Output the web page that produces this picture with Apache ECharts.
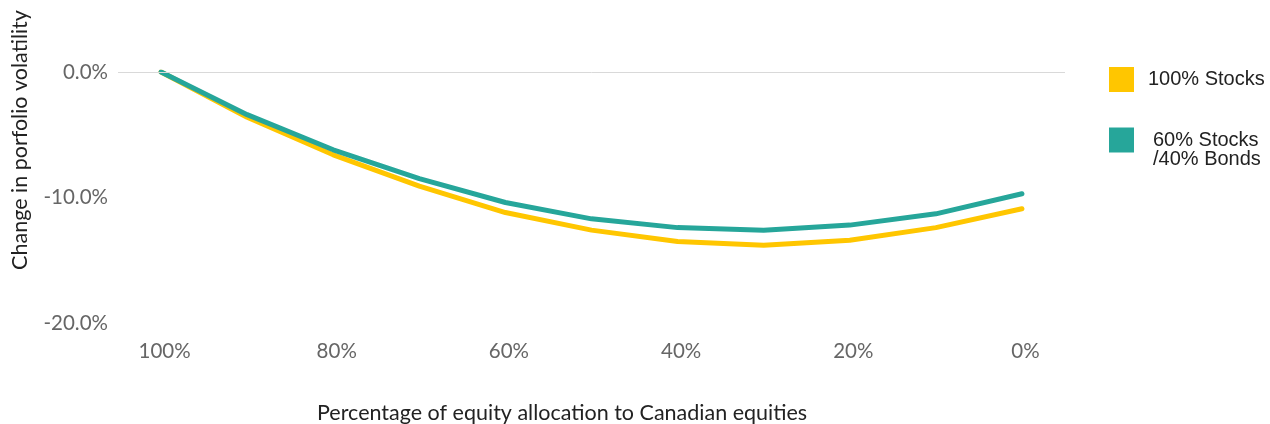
<!DOCTYPE html>
<html><head><meta charset="utf-8">
<script src="https://cdn.jsdelivr.net/npm/echarts@6/dist/echarts.min.js"></script>
<style>html,body{margin:0;padding:0;background:#fff}#c{width:1270px;height:424px}</style>
</head><body><div id="c"></div>
<script>
const categories = ['100%','90%','80%','70%','60%','50%','40%','30%','20%','10%','0%'];
const stocks100 = [0, -3.6, -6.6, -9.1, -11.2, -12.6, -13.5, -13.8, -13.4, -12.4, -10.9];
const stocks60bonds40 = [0, -3.4, -6.2, -8.5, -10.4, -11.7, -12.4, -12.6, -12.2, -11.3, -9.7];
const seriesNames = ['100% Stocks', '60% Stocks\n/40% Bonds'];
const yTicks = [0, -10, -20];

const chart = echarts.init(document.getElementById('c'), null, {renderer:'canvas'});
const axisFont = 'Lato, "Open Sans", sans-serif';
const legFont = '"Liberation Sans", Arial, sans-serif';
chart.setOption({
  animation:false,
  grid:{left:118, right:205, top:72, bottom:101, containLabel:false},
  xAxis:{type:'category', data:categories, boundaryGap:true,
    axisLine:{show:false}, axisTick:{show:false},
    axisLabel:{interval:1, color:'#666', fontSize:20.5, fontFamily:axisFont, margin:18, padding:[0,0,0,7]}},
  yAxis:{type:'value', min:yTicks[2], max:yTicks[0], interval:10,
    splitLine:{show:false}, axisLine:{show:false}, axisTick:{show:false},
    axisLabel:{color:'#666', fontSize:20.5, fontFamily:axisFont, margin:10,
      formatter:v=>v.toFixed(1)+'%'}},
  legend:[
    {data:[seriesNames[0]], orient:'vertical', left:1109, top:67, padding:0, itemWidth:25, itemHeight:25, itemGap:10,
      icon:'rect', textStyle:{fontSize:20, color:'#222', fontFamily:legFont, padding:[0,0,0,9]}},
    {data:[seriesNames[1]], orient:'vertical', left:1109, top:111, padding:0, itemWidth:25, itemHeight:25,
      icon:'rect', formatter:n=>' \n'+n,
      textStyle:{fontSize:20, color:'#222', lineHeight:19, fontFamily:legFont, padding:[0,0,0,14]}}
  ],
  graphic:[
    {type:'text', left:317, top:402, style:{text:'Percentage of equity allocation to Canadian equities', font:'21.5px Lato, "Open Sans", sans-serif', fill:'#222'}},
    {type:'text', x:20, y:140, rotation:Math.PI/2, style:{text:'Change in porfolio volatility', font:'21.5px Lato, "Open Sans", sans-serif', fill:'#222', align:'center', verticalAlign:'middle'}}
  ],
  series:[
    {name:seriesNames[0], type:'line', data:stocks100, symbol:'none', color:'#FFC600',
      lineStyle:{width:5, color:'#FFC600', cap:'round', join:'round'},
      markLine:{silent:true, symbol:'none', label:{show:false}, lineStyle:{color:'#d9d9d9', width:1, type:'solid'}, data:[{yAxis:0}]}, z:2},
    {name:seriesNames[1], type:'line', data:stocks60bonds40, symbol:'none', color:'#26A69A',
      lineStyle:{width:5, color:'#26A69A', cap:'round', join:'round'}, z:3}
  ]
});
</script></body></html>
